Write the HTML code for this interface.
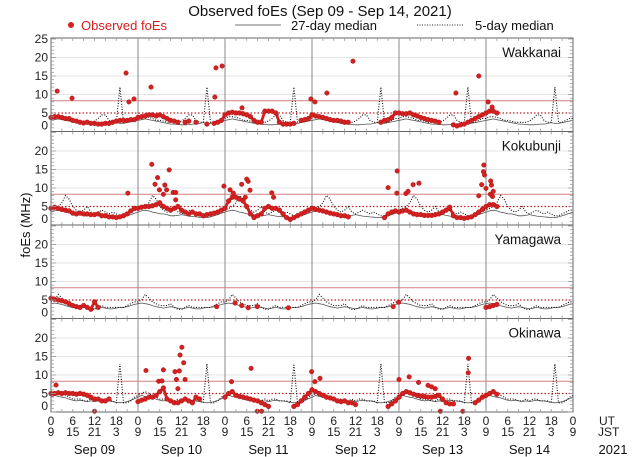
<!DOCTYPE html>
<html><head><meta charset="utf-8"><style>
body{margin:0;background:#fff;}
svg{display:block;font-family:"Liberation Sans","DejaVu Sans",sans-serif;}
</style></head><body>
<svg id="chart" width="640" height="457" viewBox="0 0 640 457" xmlns="http://www.w3.org/2000/svg">
<text x="320" y="16" text-anchor="middle" font-size="15" fill="#111">Observed foEs (Sep 09 - Sep 14, 2021)</text>
<g>
<circle cx="71" cy="25" r="3" fill="#d42020"/>
<text x="81" y="30" font-size="13" fill="#d42020">Observed foEs</text>
<line x1="235" y1="25" x2="281" y2="25" stroke="#444" stroke-width="0.8"/>
<text x="291" y="30" font-size="13" fill="#111">27-day median</text>
<line x1="417" y1="25" x2="463" y2="25" stroke="#222" stroke-width="1" stroke-dasharray="1,1.5"/>
<text x="475" y="30" font-size="13" fill="#111">5-day median</text>
</g>
<text transform="translate(30,225) rotate(-90)" text-anchor="middle" font-size="13" fill="#111">foEs (MHz)</text>
<g id="plots"></g>
<g id="xaxis"></g>
</svg>
<script>
const stations = ["Wakkanai","Kokubunji","Yamagawa","Okinawa"];
const dayLabels = ["Sep 09","Sep 10","Sep 11","Sep 12","Sep 13","Sep 14"];
const refSolid = [8.3,8.3,8.3,8.3];
const refDotted = [5,5,5,5];
const N = null;
const obsWakkanai = [
[3.8,4,4,3.8,3.5,3.5,3,2.8,2.5,2.3,2.5,2.2,2.2,2,2,2.2,2.2,2.5,2.8,3,3,3,3.2,3.2],
[3.8,4,4.2,4.5,4.5,4.2,4.5,4,3.5,3,2.8,2.5,N,2.5,2.8,N,2.5,N,N,2,N,2.2,2.5,3],
[4.5,5,5.2,5,5,4.8,4.5,4,3,2.5,2.5,5.5,5.5,5.5,5,2.5,2,2,2,2.2,N,3,3.2,3.5],
[4.5,4.2,4,3.8,3.5,3.2,3,3,2.8,2.5,2.5,N,N,N,N,N,N,N,N,2.5,3,3.2,3.8,5],
[5,4.8,4.8,5,4.5,4.2,3.8,3.5,3.2,3,2.8,2.5,N,N,N,1.8,1.5,1.8,2,2.5,3,3.5,4,4.5],
[5,5.5,5.5,5,N,N,N,N,N,N,N,N,N,N,N,N,N,N,N,N,N,N,N,N]];
const obsKokubunji = [
[4.5,4.8,4.5,4.2,4,3.8,3.2,3,3.2,3,3,2.8,2.8,3,2.5,2.5,2.2,2.2,2,2.2,2.5,3,3.8,4.5],
[4.5,4.8,5,5,5.2,5.5,6,5,4.5,4,4.5,5,4,3.5,3,3.5,3,3,2.5,2.8,3,3.2,3.5,4],
[4.5,6.5,7.5,7.5,7,6.5,5,3,2,2.5,3,4.5,5,4.5,4.5,4,3,2,1.5,2,2.5,3,3.5,4],
[4.5,4.2,4,3.8,3.5,3.2,3,2.8,2.5,2.5,2.2,N,N,N,N,N,N,N,N,N,2,3,3.5,3.8],
[3.5,3.8,4,3.5,3,2.8,2.8,2.6,2.6,2.6,2.8,3,3.5,4,4.8,2.5,2,2,1.8,2,2.2,2.8,3.5,4.2],
[5,5.5,5.5,5,N,N,N,N,N,N,N,N,N,N,N,N,N,N,N,N,N,N,N,N]];
const obsYamagawa = [
[5.5,5.2,5,4.8,4.5,4,3.5,3.2,3,3.5,3,2.5,4.5,3,N,N,N,N,N,N,N,N,N,N],
[N,N,N,N,N,N,N,N,N,N,N,N,N,N,N,N,N,N,N,N,N,N,N,N],
[N,N,N,N,N,N,N,N,N,N,N,N,N,N,N,N,N,N,N,N,N,N,N,N],
[N,N,N,N,N,N,N,N,N,N,N,N,N,N,N,N,N,N,N,N,N,N,N,N],
[N,N,N,N,N,N,N,N,N,N,N,N,N,N,N,N,N,N,N,N,N,N,N,N],
[3,3.2,3.5,3.8,N,N,N,N,N,N,N,N,N,N,N,N,N,N,N,N,N,N,N,N]];
const obsOkinawa = [
[5,5,5.2,5,5.2,5,5,4.8,5,4.8,4.5,4,3.5,3.5,3,3,3.5,N,N,N,N,N,N,N],
[2.8,3.2,3.5,4,4,4.5,5.5,6.5,3.5,3,2.5,2.5,3,3.5,3,2.5,4,3.5,N,N,N,N,N,N],
[4,5,5.5,4.5,4.2,4,3.8,3.5,3.2,3,2.5,2,1.5,N,N,N,N,N,N,1.5,2,3,4,5],
[6,5.5,5,4.5,4,3.8,3.5,3,2.8,3,2.5,2.5,2,N,N,N,N,N,N,N,N,1.5,2.2,3],
[4,5,5.5,5.2,4.8,4.5,4.3,4.2,4,4,4.2,4.5,3.5,2.5,2.2,2.2,N,N,N,N,N,2.5,3.2,4],
[4.5,5,5.5,4.8,N,N,N,N,N,N,N,N,N,N,N,N,N,N,N,N,N,N,N,N]];
const outHoursWakkanai = [1.7,5.8,20.7,21.5,22.9,27.6,45.2,45.5,47.2,52.7,71.7,72.8,76.1,83.3,111.7,118,120.6,121.7];
const outValsWakkanai  = [10.9,9,15.8,8,8.8,12,9.3,17.2,17.7,6.4,8.8,8,10.4,19,10.4,15,8,6.6];
const outHoursKokubunji = [21.2,27.8,28.7,29.4,29.9,31,31.4,32.6,31.9,33.7,34.4,34.4,47.7,49.4,50.3,52.6,54,54.4,54.9,53.6,60.9,61.4,93,95.5,95.4,97.9,98.5,99.9,101.5,118,118.8,119.4,119.3,119.6,120,121.3,121.5,121.2,121.8,122];
const outValsKokubunji  = [8.6,16.4,11,12.8,9.5,8.3,10.8,14.9,9.5,8.8,8.8,6.8,10.5,9.5,8.6,11,12.4,11.8,9.4,7.5,8.7,7.5,10.1,14.6,8.6,8.5,9.1,10.9,11.3,7.9,10.9,16.2,14.4,13.5,9.9,11.9,10.8,8.3,7.7,9.1];
const outHoursYamagawa = [45.7,50.8,52.6,54.4,56.9,65.5,94.4,95.9];
const outValsYamagawa  = [3.2,4.2,3.5,2.9,3.2,2.9,3.2,4.4];
const outHoursOkinawa = [1.4,26.2,31,29.7,30.6,34.2,35.4,35.6,36.1,36.6,35,37,34.6,55.2,49.8,12,56.9,58.1,71.9,72.8,74.2,96,98.8,101.4,104,105,106,115.2,115.1,107.4,113.6];
const outValsOkinawa  = [7.3,11.2,11.4,8.3,8.4,10.9,11.1,15.4,17.5,13.3,6.3,8.8,8.8,11.8,8.2,0.2,0.2,0.2,10.9,8.2,9.1,8.8,9.5,8,7.2,6.8,6.3,14.5,10.6,0.2,0.2];
const med27Wakkanai = [3,3.2,3.4,3.2,3,2.8,2.6,2.4,2.2,2,2,1.9,1.8,1.8,1.9,2,2,2.2,2.4,2.2,2.2,2.4,2.6,2.8];
const med5Wakkanai  = [3.5,4,4,3.8,3.5,3,3,2.8,2.5,2.5,2.5,2.5,2.8,3.5,4.5,4.5,3,2.5,2.5,12,2.5,2.5,3,3.5];
const med27Kokubunji = [3.5,3.8,4,3.8,3.5,3.3,3,3,2.8,2.5,2.5,2.6,2.8,2.6,2.4,2.3,2.2,2.1,2,2,2.2,2.5,2.8,3.2];
const med5Kokubunji  = [4,4.5,5,6,8,7,5,4,3.5,4,5,3.5,3,3.5,4,3.5,3,3.5,3,2.5,2.5,3,3.5,4];
const med27Yamagawa = [4,4.2,4,3.8,3.5,3.2,3,2.8,3,3.2,3,2.8,2.6,2.8,3,2.8,2.6,2.6,2.8,3,3,3.2,3.5,3.8];
const med5Yamagawa  = [4.5,5,6.5,5.5,4.5,4,3.5,3.5,3.5,4,3,2.5,2.5,3,3.5,3,3,3,3,3,3,3.5,4,4.5];
const med27Okinawa = [4,4.5,4.2,4,3.8,3.5,3.2,3,3.2,3,2.8,3,2.8,3,3.2,3,3,2.8,2.6,2.5,2.6,2.8,3.2,3.6];
const med5Okinawa  = [4.5,5,5.5,5,4.5,4,3.5,3.5,3.5,3,3,3.5,3,3.5,3.5,3,3,3,2.5,13,2.5,2.5,3,4];

const obsAll = [obsWakkanai,obsKokubunji,obsYamagawa,obsOkinawa];
const outH = [outHoursWakkanai,outHoursKokubunji,outHoursYamagawa,outHoursOkinawa];
const outV = [outValsWakkanai,outValsKokubunji,outValsYamagawa,outValsOkinawa];
const m27 = [med27Wakkanai,med27Kokubunji,med27Yamagawa,med27Okinawa];
const m5 = [med5Wakkanai,med5Kokubunji,med5Yamagawa,med5Okinawa];

const NS="http://www.w3.org/2000/svg";
const X0=51, X1=573, HOURS=144, PH=93.5;
const tops=[38,131.5,225,318.5];
const xs=h=>X0+h*(X1-X0)/HOURS;
const ys=(p,v)=>tops[p]+1+(25-v)*3.7;
function mk(tag,attrs,parent){const e=document.createElementNS(NS,tag);for(const k in attrs)e.setAttribute(k,attrs[k]);parent.appendChild(e);return e;}
const plots=document.getElementById('plots');
const RED="#d42020";
for(let p=0;p<4;p++){
  const g=mk('g',{},plots);
  
  
  const T=tops[p];
  for(const v of [10,15,20]){
    const l=mk('line',{x1:X0,x2:X1,y1:ys(p,v),y2:ys(p,v),stroke:"#e4e4e4","stroke-width":1},g);
    
    
  }
  for(let d=1;d<6;d++){
    const l=mk('line',{x1:xs(d*24),x2:xs(d*24),y1:T,y2:T+PH,stroke:"#888","stroke-width":1},g);
    
    
  }
  const rs=mk('line',{x1:X0,x2:X1,y1:ys(p,refSolid[p]),y2:ys(p,refSolid[p]),stroke:"#d08080","stroke-width":1},g);
  
  
  const rd=mk('line',{x1:X0,x2:X1,y1:ys(p,refDotted[p]),y2:ys(p,refDotted[p]),stroke:"#c02020","stroke-width":1.2,"stroke-dasharray":"1.5,2"},g);
  
  
  let d27="",d5="";
  for(let h=0;h<=HOURS;h++){
    const k=h%24;
    d27+=(h?"L":"M")+xs(h).toFixed(1)+","+ys(p,m27[p][k]).toFixed(1);
    d5+=(h?"L":"M")+xs(h).toFixed(1)+","+ys(p,m5[p][k]).toFixed(1);
  }
  const l27=mk('path',{d:d27,fill:"none",stroke:"#555","stroke-width":0.8},g);
  
  
  const l5=mk('path',{d:d5,fill:"none",stroke:"#111","stroke-width":1.1,"stroke-dasharray":"1,1.6"},g);
  
  
  const flat=[].concat(...obsAll[p]);
  for(let h=0;h<flat.length;h++){
    const v=flat[h]; if(v===null) continue;
    if(h+1<flat.length && flat[h+1]!==null){
      const s=mk('line',{x1:xs(h),y1:ys(p,v),x2:xs(h+1),y2:ys(p,flat[h+1]),stroke:RED,"stroke-width":2.8,"stroke-linecap":"round"},g);
      
      
    }
    const c=mk('circle',{cx:xs(h),cy:ys(p,v),r:2.4,fill:RED,stroke:"#a01010","stroke-width":0.4},g);
    
    
  }
  for(let i=0;i<outH[p].length;i++){
    const c=mk('circle',{cx:xs(outH[p][i]),cy:ys(p,outV[p][i]),r:2.3,fill:RED,stroke:"#a01010","stroke-width":0.4},g);
    
    
  }
  const fr=mk('rect',{x:X0,y:T,width:X1-X0,height:PH,fill:"none",stroke:"#666","stroke-width":1},g);
  
  
  for(let v=0;v<=25;v++){
    const len=v%5===0?5:3;
    mk('line',{x1:X0,x2:X0+len,y1:ys(p,v),y2:ys(p,v),stroke:"#999","stroke-width":0.8},g);
    mk('line',{x1:X1,x2:X1-len,y1:ys(p,v),y2:ys(p,v),stroke:"#999","stroke-width":0.8},g);
    if(v%5===0 && (v<25 || p===0)){
      const t=mk('text',{x:48,y:(v===0?ys(p,v)-2:ys(p,v)+4),"text-anchor":"end","font-size":12,fill:"#222"},g);
      t.textContent=v;
      
      
    }
  }
  for(let h=3;h<HOURS;h+=3){
    mk('line',{x1:xs(h),x2:xs(h),y1:T+PH,y2:T+PH-3,stroke:"#999","stroke-width":0.8},g);
    mk('line',{x1:xs(h),x2:xs(h),y1:T,y2:T+3,stroke:"#999","stroke-width":0.8},g);
  }
  const nm=mk('text',{x:561,y:T+19,"text-anchor":"end","font-size":13.5,fill:"#111"},g);
  nm.textContent=stations[p];
  
  
}
const xa=document.getElementById('xaxis');


for(let h=0;h<=HOURS;h+=6){
  const a=mk('text',{x:xs(h),y:425,"text-anchor":"middle","font-size":12,fill:"#222"},xa);
  a.textContent=h%24;
  
  
  const b=mk('text',{x:xs(h),y:436,"text-anchor":"middle","font-size":12,fill:"#222"},xa);
  b.textContent=(h+9)%24;
  
  
}
for(let d=0;d<6;d++){
  const t=mk('text',{x:xs(d*24+12),y:454,"text-anchor":"middle","font-size":13,fill:"#111"},xa);
  t.textContent=dayLabels[d];
  
  
}
const ut=mk('text',{x:599,y:425,"font-size":12,fill:"#222"},xa);ut.textContent="UT";


const jst=mk('text',{x:598,y:436,"font-size":12,fill:"#222"},xa);jst.textContent="JST";


const yr=mk('text',{x:613,y:454,"text-anchor":"middle","font-size":13,fill:"#111"},xa);yr.textContent="2021";


</script>
</body></html>
